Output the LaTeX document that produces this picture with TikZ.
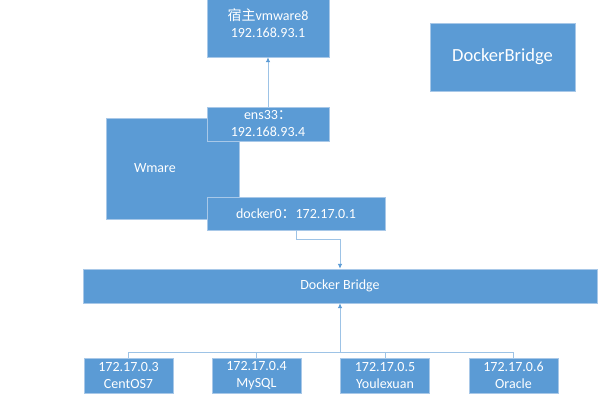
\documentclass[tikz,border=0pt]{standalone}
\usepackage{fontspec}
\setmainfont{Carlito}
\newfontfamily\cjk{Noto Sans CJK SC}
\usepackage{xcolor}
\usepackage{tikz}
\usetikzlibrary{arrows.meta,positioning,calc}
\definecolor{BoxFill}{HTML}{5B9BD5}
\definecolor{BoxEdge}{HTML}{A8C8E8}
\definecolor{Wire}{HTML}{9DC3E6}
\definecolor{Tip}{HTML}{5B9BD5}

\begin{document}
\begin{tikzpicture}[
  x=1pt,y=-1pt,
  box/.style={draw=BoxEdge,fill=BoxFill,text=white,align=center,inner sep=0pt,
    font=\fontsize{14}{17}\selectfont},
  wire/.style={draw=Wire,line width=0.9pt},
  arr/.style={wire,-{Latex[length=5pt,width=4.5pt,color=Tip]}}]
\useasboundingbox (0,0) rectangle (600,400);
\node[box,minimum width=122,minimum height=67] (host) at (268,23.5) {{\cjk 宿主}vmware8\\192.168.93.1};
\node[box,minimum width=145,minimum height=68,font=\fontsize{18.5}{22}\selectfont] (dbr) at (502.5,57) {DockerBridge};
\node[box,minimum width=133,minimum height=101] (wmare) at (172.5,168.5) {};
\node[text=white,font=\fontsize{14}{17}\selectfont] (wlab) at (155,168) {Wmare};
\node[box,minimum width=122,minimum height=34] (ens) at (268,124) {ens33{\cjk ：}\\192.168.93.4};
\node[box,minimum width=178,minimum height=33] (dock0) at (296,213.5) {docker0{\cjk ：}172.17.0.1};
\node[box,minimum width=514,minimum height=34] (bridge) at (340,286) {Docker Bridge};
\node[box,minimum width=89,minimum height=35] (c1) at (128.5,375.5) {172.17.0.3\\CentOS7};
\node[box,minimum width=89,minimum height=35] (c2) at (256.5,375.5) {172.17.0.4\\MySQL};
\node[box,minimum width=89,minimum height=35] (c3) at (385,375.5) {172.17.0.5\\Youlexuan};
\node[box,minimum width=89,minimum height=35] (c4) at (513.5,375.5) {172.17.0.6\\Oracle};
\coordinate (bus) at (340,352);
\draw[arr] (ens)--(host);
\draw[arr] (dock0.south)--++(0,9)-|(bridge.north);
\foreach \c in {c1,c2,c3,c4}
  \draw[wire] (\c.north)|-(bus);
\draw[arr] (bus)--(bridge.south);
\end{tikzpicture}
\end{document}
